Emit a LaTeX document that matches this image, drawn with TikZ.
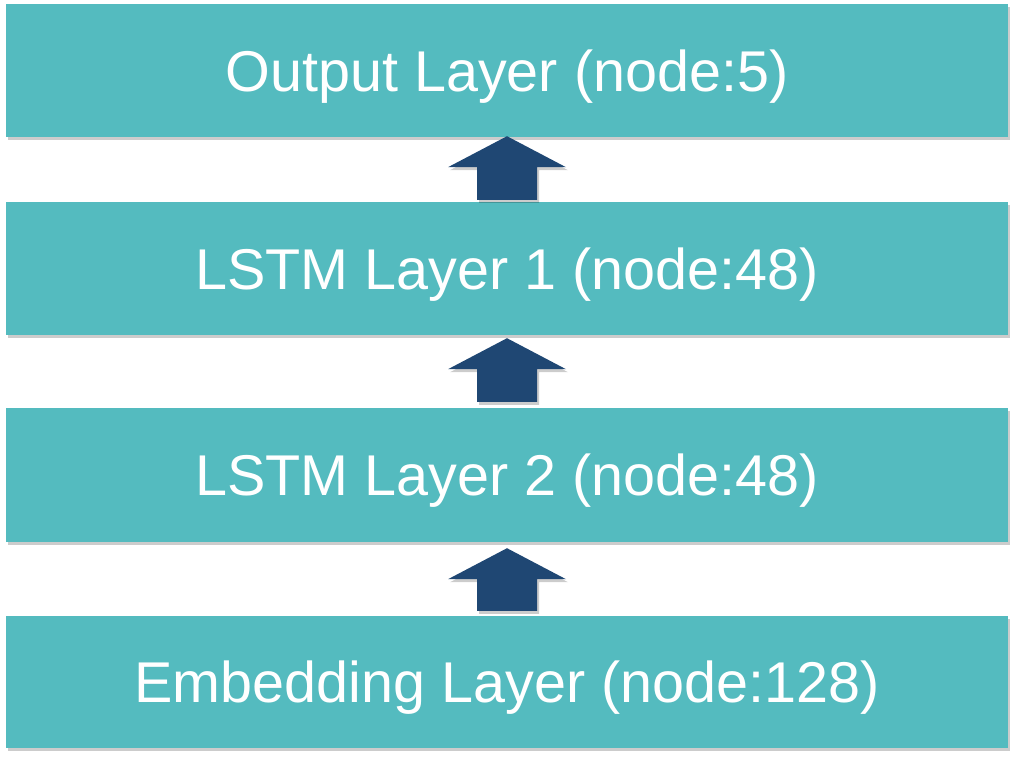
\documentclass[tikz,border=0pt]{standalone}
\usepackage{fontspec}
\setmainfont{Liberation Sans}
\usetikzlibrary{calc,shadows}
\definecolor{layerteal}{RGB}{84,187,191}
\definecolor{arrowblue}{RGB}{31,71,115}
\tikzset{
  layerbox/.style={rectangle, fill=layerteal, draw=none, text=white,
    minimum width=1002pt, minimum height=#1, inner sep=0pt,
    text height=41pt, text depth=0pt,
    font=\fontsize{57.5pt}{62pt}\selectfont,
    drop shadow={shadow xshift=2pt, shadow yshift=-3pt, opacity=0.2, fill=black}},
  layerbox/.default=133pt,
  blockarrow/.style={fill=arrowblue,
    drop shadow={shadow xshift=2pt, shadow yshift=-3pt, opacity=0.2, fill=black}}
}
% block arrow: #1 lower box, #2 upper box, #3 gap under upper box, #4 gap over lower box
\newcommand{\layerarrow}[4]{%
  \coordinate (tip) at ($(#2.south)+(0,#3)$);
  \coordinate (foot) at ($(#1.north)+(0,-#4)$);
  \fill[blockarrow] (tip) -- ($(tip)+(59,31)$) -- ($(tip)+(30,31)$)
    -- (foot -| {$(tip)+(30,0)$}) -- (foot -| {$(tip)+(-30,0)$})
    -- ($(tip)+(-30,31)$) -- ($(tip)+(-59,31)$) -- cycle;
}
\begin{document}
\begin{tikzpicture}[x=1pt,y=-1pt]
  \useasboundingbox (0,0) rectangle (1016,760);
  \node[layerbox] (output) at (507,70.5) {Output Layer (node:5)};
  \node[layerbox] (lstma) at (507,268.5) {LSTM Layer 1 (node:48)};
  \node[layerbox=134pt] (lstmb) at (507,475) {LSTM Layer 2 (node:48)};
  \node[layerbox=132pt] (embed) at (507,682) {Embedding Layer (node:128)};
  \layerarrow{lstma}{output}{-1}{2}
  \layerarrow{lstmb}{lstma}{3}{6}
  \layerarrow{embed}{lstmb}{6}{5}
\end{tikzpicture}
\end{document}
